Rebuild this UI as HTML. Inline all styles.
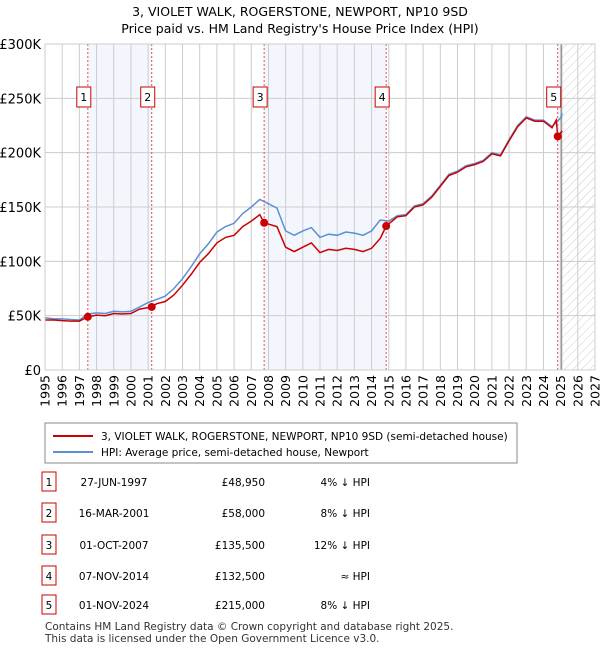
<!DOCTYPE html>
<html><head><meta charset="utf-8"><style>
body{margin:0;background:#fff;font-family:"Liberation Sans","DejaVu Sans",sans-serif;}
svg text{font-family:"DejaVu Sans","Liberation Sans",sans-serif;}
</style></head><body>
<svg id="c" width="600" height="650" xmlns="http://www.w3.org/2000/svg">
<defs><pattern id="hatch" width="6" height="6" patternUnits="userSpaceOnUse" patternTransform="rotate(45)"><line x1="0" y1="0" x2="0" y2="6" stroke="#ccc" stroke-width="1"/></pattern></defs>
<text x="300" y="16" text-anchor="middle" font-size="12.5">3, VIOLET WALK, ROGERSTONE, NEWPORT, NP10 9SD</text>
<text x="300" y="33" text-anchor="middle" font-size="12.5">Price paid vs. HM Land Registry's House Price Index (HPI)</text>
<g id="plot"></g>
<rect x="45" y="423" width="472" height="40" fill="#fff" stroke="#888"/>
<line x1="53" y1="436" x2="93" y2="436" stroke="#cc0000" stroke-width="2"/>
<text x="101" y="440" font-size="10.5">3, VIOLET WALK, ROGERSTONE, NEWPORT, NP10 9SD (semi-detached house)</text>
<line x1="53" y1="452" x2="93" y2="452" stroke="#5b8fd4" stroke-width="2"/>
<text x="101" y="456" font-size="10.5">HPI: Average price, semi-detached house, Newport</text>
<g id="table" font-size="10.5"></g>
<text x="45" y="630" font-size="10.5" fill="#333">Contains HM Land Registry data © Crown copyright and database right 2025.</text>
<text x="45" y="642" font-size="10.5" fill="#333">This data is licensed under the Open Government Licence v3.0.</text>
</svg>
<script>
const hpiYears=[1995,1995.5,1996,1996.5,1997,1997.5,1998,1998.5,1999,1999.5,2000,2000.5,2001,2001.5,2002,2002.5,2003,2003.5,2004,2004.5,2005,2005.5,2006,2006.5,2007,2007.5,2008,2008.5,2009,2009.5,2010,2010.5,2011,2011.5,2012,2012.5,2013,2013.5,2014,2014.5,2015,2015.5,2016,2016.5,2017,2017.5,2018,2018.5,2019,2019.5,2020,2020.5,2021,2021.5,2022,2022.5,2023,2023.5,2024,2024.5,2025,2025.1];
const hpiValues=[48,47,47,46.5,46,51.5,52.5,52,54,53.5,54,58,62,65,68,75,84,95,107,116,127,132,135,144,150,157,153,149,128,124,128,131,122,125,124,127,126,124,128,138,137,142,143,151,153,160,170,180,183,188,190,193,200,198,212,225,233,230,230,224,232,236];
const ppYears=[1995,1995.5,1996,1996.5,1997,1997.49,1998,1998.5,1999,1999.5,2000,2000.5,2001.21,2001.5,2002,2002.5,2003,2003.5,2004,2004.5,2005,2005.5,2006,2006.5,2007,2007.5,2007.75,2008.5,2009,2009.5,2010,2010.5,2011,2011.5,2012,2012.5,2013,2013.5,2014,2014.5,2014.85,2015.5,2016,2016.5,2017,2017.5,2018,2018.5,2019,2019.5,2020,2020.5,2021,2021.5,2022,2022.5,2023,2023.5,2024,2024.5,2024.75,2024.83,2025.1];
const ppValues=[46,46,45.5,45,45,48.95,50.5,50,52,51.5,52,56,58,61,63,69,78,88,99,107,117,122,124,132,137,143,135.5,132,113,109,113,117,108,111,110,112,111,109,112,121,132.5,141,142,150,152,159,169,179,182,187,189,192,199,197,211,224,232,229,229,223,230,215,220];
const saleDates=[1997.49,2001.21,2007.75,2014.85,2024.83];
const salePrices=[48.95,58,135.5,132.5,215];
const saleLabels=["1","2","3","4","5"];
const tableDates=["27-JUN-1997","16-MAR-2001","01-OCT-2007","07-NOV-2014","01-NOV-2024"];
const tablePrices=["£48,950","£58,000","£135,500","£132,500","£215,000"];
const tableHpi=["4% ↓ HPI","8% ↓ HPI","12% ↓ HPI","≈ HPI","8% ↓ HPI"];
const yTicks=[0,50,100,150,200,250,300];
const yTickLabels=["£0","£50K","£100K","£150K","£200K","£250K","£300K"];
const xTicks=[1995,1996,1997,1998,1999,2000,2001,2002,2003,2004,2005,2006,2007,2008,2009,2010,2011,2012,2013,2014,2015,2016,2017,2018,2019,2020,2021,2022,2023,2024,2025,2026,2027];

const X0=45,X1=595,Y0=370,Y1=44;
const sx=v=>X0+(v-1995)/(2027-1995)*(X1-X0);
const sy=v=>Y0-v/300*(Y0-Y1);
const NS="http://www.w3.org/2000/svg";
const plot=document.getElementById('plot');
function mk(tag,attrs,parent){const e=document.createElementNS(NS,tag);for(const k in attrs)e.setAttribute(k,attrs[k]);(parent||plot).appendChild(e);return e;}
let r;
r=mk('rect',{x:X0,y:Y1,width:X1-X0,height:Y0-Y1,fill:'#fff'});


[[0,1],[2,3]].forEach(p=>{
 const b=mk('rect',{x:sx(saleDates[p[0]]),y:Y1,width:sx(saleDates[p[1]])-sx(saleDates[p[0]]),height:Y0-Y1,fill:'#f3f7fd'});
 
 
});
const nowX=sx(2025.05);
r=mk('rect',{x:sx(saleDates[4]),y:Y1,width:nowX-sx(saleDates[4]),height:Y0-Y1,fill:'#f3f7fd'});


r=mk('rect',{x:nowX,y:Y1,width:X1-nowX,height:Y0-Y1,fill:'url(#hatch)'});


yTicks.forEach((t,i)=>{
 const l=mk('line',{x1:X0,x2:X1,y1:sy(t),y2:sy(t),stroke:'#ccc'});
 
 
 const tx=mk('text',{x:X0-4,y:sy(t)+5,'text-anchor':'end','font-size':'13'});
 tx.textContent=yTickLabels[i];
 
 
});
xTicks.forEach(t=>{
 const l=mk('line',{x1:sx(t),x2:sx(t),y1:Y1,y2:Y0,stroke:'#ccc'});
 
 
 const tx=mk('text',{x:0,y:0,'text-anchor':'end','font-size':'12.5',transform:`translate(${sx(t)+4.5},375) rotate(-90)`});
 tx.textContent=t;
 
 
});
r=mk('line',{x1:nowX,x2:nowX,y1:Y1,y2:Y0,stroke:'#999','stroke-width':1.5});


function path(xs,ys){return xs.map((x,i)=>(i?'L':'M')+sx(x).toFixed(1)+','+sy(ys[i]).toFixed(1)).join('');}
r=mk('path',{d:path(hpiYears,hpiValues),fill:'none',stroke:'#5b8fd4','stroke-width':1.5});


r=mk('path',{d:path(ppYears,ppValues),fill:'none',stroke:'#cc0000','stroke-width':1.5});


saleDates.forEach((d,i)=>{
 const l=mk('line',{x1:sx(d),x2:sx(d),y1:Y1,y2:Y0,stroke:'#e05050','stroke-dasharray':'2,2'});
 
 
 const c=mk('circle',{cx:sx(d),cy:sy(salePrices[i]),r:4,fill:'#cc0000'});
 
 
 const b=mk('rect',{x:sx(d)-11,y:87,width:14,height:20,fill:'#fff',stroke:'#cc0000'});
 
 
 const t=mk('text',{x:sx(d)-4,y:101,'text-anchor':'middle','font-size':'11'});
 t.textContent=saleLabels[i];
 
 
});
r=mk('rect',{x:X0,y:Y1,width:X1-X0,height:Y0-Y1,fill:'none',stroke:'#ccc'});


const tb=document.getElementById('table');
const rowY=[482,513,545,576,605];
saleLabels.forEach((s,i)=>{
 const y=rowY[i];
 const b=mk('rect',{x:42,y:y-10,width:14,height:19,fill:'#fff',stroke:'#cc0000'},tb);
 
 
 let t=mk('text',{x:49,y:y+4,'text-anchor':'middle'},tb);t.textContent=s;
 
 
 t=mk('text',{x:114,y:y+4,'text-anchor':'middle'},tb);t.textContent=tableDates[i];
 
 
 t=mk('text',{x:265,y:y+4,'text-anchor':'end'},tb);t.textContent=tablePrices[i];
 
 
 t=mk('text',{x:370,y:y+4,'text-anchor':'end'},tb);t.textContent=tableHpi[i];
 
 
});
</script>
</body></html>
